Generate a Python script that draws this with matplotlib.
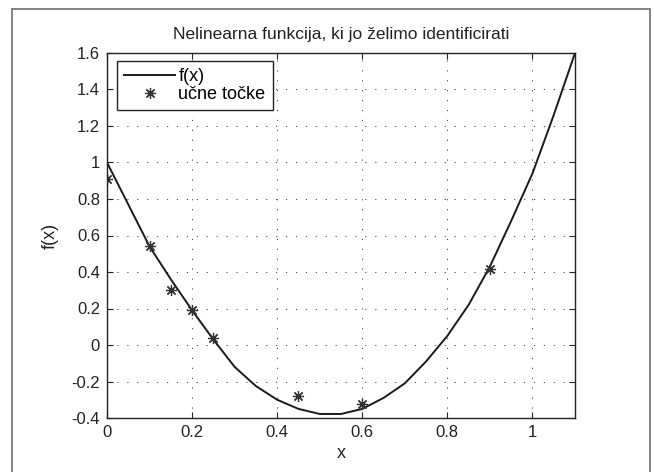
import matplotlib
matplotlib.use("Agg")
import matplotlib.pyplot as plt
from matplotlib.patches import Rectangle

# Curve samples
x_curve = [0.0, 0.05, 0.10, 0.15, 0.20, 0.25, 0.30, 0.35, 0.40, 0.45, 0.50, 0.55,
           0.60, 0.65, 0.70, 0.75, 0.80, 0.85, 0.90, 0.95, 1.00, 1.05, 1.10]
y_curve = [1.00, 0.77, 0.54, 0.36, 0.19, 0.03, -0.12, -0.225, -0.30, -0.35, -0.378, -0.378,
           -0.35, -0.29, -0.21, -0.09, 0.05, 0.22, 0.43, 0.68, 0.94, 1.26, 1.60]

# Training points
x_pts = [0.0, 0.10, 0.15, 0.20, 0.25, 0.45, 0.60, 0.90]
y_pts = [0.91, 0.54, 0.30, 0.19, 0.037, -0.28, -0.325, 0.415]

xticks = [0, 0.2, 0.4, 0.6, 0.8, 1.0]
xtick_labels = ["0", "0.2", "0.4", "0.6", "0.8", "1"]
yticks = [-0.4, -0.2, 0, 0.2, 0.4, 0.6, 0.8, 1.0, 1.2, 1.4, 1.6]
ytick_labels = ["-0.4", "-0.2", "0", "0.2", "0.4", "0.6", "0.8", "1", "1.2", "1.4", "1.6"]

plt.rcParams['font.family'] = ['Liberation Sans', 'DejaVu Sans']
FS = 12
FL = 13
plt.rcParams['font.size'] = FS

W, H = 654, 472
fig = plt.figure(figsize=(W / 100, H / 100), dpi=100)
fig.patch.set_facecolor('white')

# outer gray frame
fig.patches.append(Rectangle((12 / W, -0.05), (650 - 12) / W, 1 - 9 / H + 0.05,
                             transform=fig.transFigure, fill=False,
                             edgecolor='#7a7a7a', linewidth=1.3))

left, right, top, bottom = 107, 575, 53, 418
ax = fig.add_axes([left / W, 1 - bottom / H, (right - left) / W, (bottom - top) / H])

ax.plot(x_curve, y_curve, color='#1a1a1a', linewidth=1.4, label='f(x)')
ax.plot(x_pts, y_pts, linestyle='none', marker=(8, 2, 0), markersize=8,
        markeredgecolor='#333333', markeredgewidth=0.9, color='#333333',
        label='učne točke')

ax.set_xlim(0, 1.1)
ax.set_ylim(-0.4, 1.6)
ax.set_xticks(xticks)
ax.set_xticklabels(xtick_labels)
ax.set_yticks(yticks)
ax.set_yticklabels(ytick_labels)
ax.tick_params(direction='in', top=True, right=True, length=4, width=0.8,
               labelsize=FS, colors='#222222', pad=5)
ax.grid(True, color='#444444', linestyle=(0, (1.2, 9)), linewidth=0.7)
for s in ax.spines.values():
    s.set_linewidth(1.0)
    s.set_color('#222222')

ax.set_title('Nelinearna funkcija, ki jo želimo identificirati', fontsize=12.5,
             pad=10, color='#222222')
ax.set_xlabel('x', fontsize=FL, labelpad=4, color='#222222')
ax.set_ylabel('f(x)', fontsize=FL, labelpad=9, color='#222222')

leg = ax.legend(loc='upper left', bbox_to_anchor=(10 / (right - left), 1 - 8 / (bottom - top)),
                frameon=True, fancybox=False, edgecolor='#222222', framealpha=1,
                borderpad=0.4, handlelength=2.8, handletextpad=0.2, labelspacing=0.05,
                fontsize=FL, borderaxespad=0)
leg.get_frame().set_linewidth(1.0)

fig.savefig('out.png', dpi=100)
